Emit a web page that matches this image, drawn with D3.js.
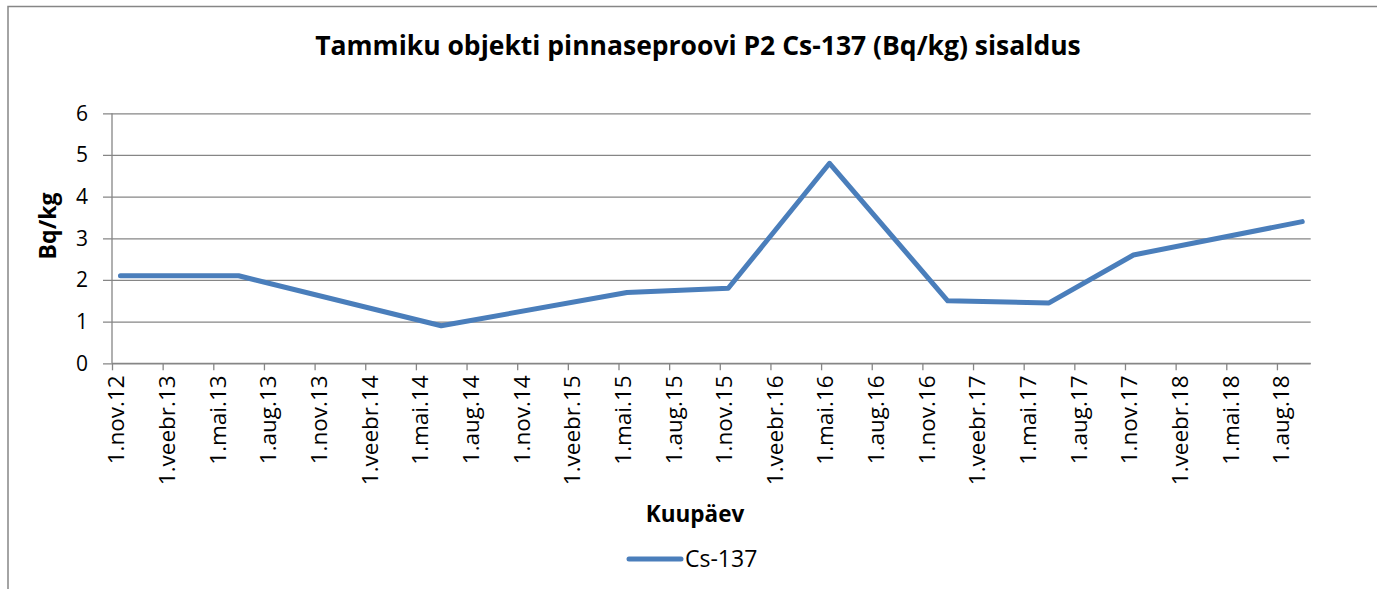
<!DOCTYPE html>
<html>
<head>
<meta charset="utf-8">
<script src="https://cdn.jsdelivr.net/npm/d3@7/dist/d3.min.js"></script>
<style>
  html, body { margin: 0; padding: 0; background: #fff; }
  svg { display: block; }
  text { font-family: "Open Sans", "DejaVu Sans", sans-serif; fill: #000; }
</style>
</head>
<body>
<svg id="chart" width="1377" height="589"></svg>
<script>
// Sample dates (year-month) and measured Cs-137 activity, Bq/kg
const sampleMonths = ["2012-11", "2013-06", "2014-06", "2015-05", "2015-11",
                      "2016-05", "2016-12", "2017-06", "2017-11", "2018-09"];
const cs137Values = [2.1, 2.1, 0.9, 1.7, 1.8, 4.8, 1.5, 1.45, 2.6, 3.4];

// Axis range in months and tick settings
const axisStartMonth = "2012-11";
const axisEndMonth = "2018-10";   // exclusive end of the last month band
const tickStepMonths = 3;
const monthNames = ["jaan", "veebr", "märts", "apr", "mai", "juuni",
                    "juuli", "aug", "sept", "okt", "nov", "dets"];
const yTicks = [0, 1, 2, 3, 4, 5, 6];

const chartTitle = "Tammiku objekti pinnaseproovi P2 Cs-137 (Bq/kg) sisaldus";
const xTitle = "Kuupäev";
const yTitle = "Bq/kg";
const seriesName = "Cs-137";

const svg = d3.select("#chart");
const parseMonth = d3.utcParse("%Y-%m");
const start = parseMonth(axisStartMonth);
const end = parseMonth(axisEndMonth);
const monthIndex = d => d3.utcMonth.count(start, d);

const plot = { left: 112, right: 1310.7, top: 113.3, bottom: 363.3 };
const lineColor = "#4a7ebb";
const gridColor = "#868686";

// Each month is an equal-width band; samples sit at the band centre
const x = d3.scaleLinear()
  .domain([0, monthIndex(end)])
  .range([plot.left, plot.right]);
const y = d3.scaleLinear()
  .domain([0, 6])
  .range([plot.bottom, plot.top]);

// Outer chart frame
svg.append("path")
  .attr("d", "M8,600 L8,6.5 L1390,6.5")
  .attr("fill", "none")
  .attr("stroke", gridColor)
  .attr("stroke-width", 1.5);

// Title
svg.append("text")
  .attr("x", 698).attr("y", 55)
  .attr("text-anchor", "middle")
  .style("font-weight", "bold")
  .style("font-size", "26.5px")
  .text(chartTitle);

// Horizontal gridlines with y axis
const yAxis = d3.axisLeft(y)
  .tickValues(yTicks)
  .tickSize(-(plot.right - plot.left))
  .tickPadding(24)
  .tickFormat(d3.format("d"));
const gy = svg.append("g")
  .attr("transform", `translate(${plot.left},0)`)
  .call(yAxis);
gy.select(".domain").remove();
gy.selectAll(".tick line")
  .attr("x1", -9)
  .attr("stroke", gridColor)
  .attr("stroke-width", 1.3);
gy.selectAll(".tick text")
  .style("font-size", "21px")
  .attr("font-family", null);

// Vertical axis line
svg.append("line")
  .attr("x1", plot.left).attr("x2", plot.left)
  .attr("y1", plot.top).attr("y2", plot.bottom)
  .attr("stroke", gridColor).attr("stroke-width", 1.3);

// X axis: quarterly ticks on the month bands
const tickDates = d3.utcMonth.range(start, end, tickStepMonths);
const tickIdx = tickDates.map(monthIndex);
const fmtTick = d => `1.${monthNames[d.getUTCMonth()]}.${d3.utcFormat("%y")(d)}`;
const xAxis = d3.axisBottom(x)
  .tickValues(tickIdx)
  .tickSize(7)
  .tickFormat(i => fmtTick(tickDates[tickIdx.indexOf(i)]));
const gx = svg.append("g")
  .attr("transform", `translate(0,${plot.bottom})`)
  .call(xAxis);
gx.select(".domain")
  .attr("stroke", gridColor).attr("stroke-width", 1.3)
  .attr("d", `M${plot.left},0H${plot.right}`);
gx.selectAll(".tick line").attr("stroke", gridColor).attr("stroke-width", 1.3);
gx.selectAll(".tick text")
  .attr("font-family", null)
  .style("font-size", "22.5px")
  .attr("text-anchor", "end")
  .attr("y", 0)
  .attr("dy", "0.35em")
  .attr("transform", "translate(4,12) rotate(-90)");

// Axis titles
svg.append("text")
  .attr("transform", "translate(56,226) rotate(-90)")
  .attr("text-anchor", "middle")
  .style("font-weight", "bold")
  .style("font-size", "23px")
  .text(yTitle);
svg.append("text")
  .attr("x", 695).attr("y", 522)
  .attr("text-anchor", "middle")
  .style("font-weight", "bold")
  .style("font-size", "22.5px")
  .text(xTitle);

// Series line
const points = sampleMonths.map((m, i) => ({ m: monthIndex(parseMonth(m)) + 0.5, v: cs137Values[i] }));
const line = d3.line().x(d => x(d.m)).y(d => y(d.v));
svg.append("path")
  .datum(points)
  .attr("d", line)
  .attr("fill", "none")
  .attr("stroke", lineColor)
  .attr("stroke-width", 5)
  .attr("stroke-linecap", "round")
  .attr("stroke-linejoin", "round");

// Legend
const lg = svg.append("g");
lg.append("line")
  .attr("x1", 629).attr("x2", 681)
  .attr("y1", 559).attr("y2", 559)
  .attr("stroke", lineColor).attr("stroke-width", 5)
  .attr("stroke-linecap", "round");
lg.append("text")
  .attr("x", 685).attr("y", 567)
  .style("font-size", "23px")
  .text(seriesName);
</script>
</body>
</html>
